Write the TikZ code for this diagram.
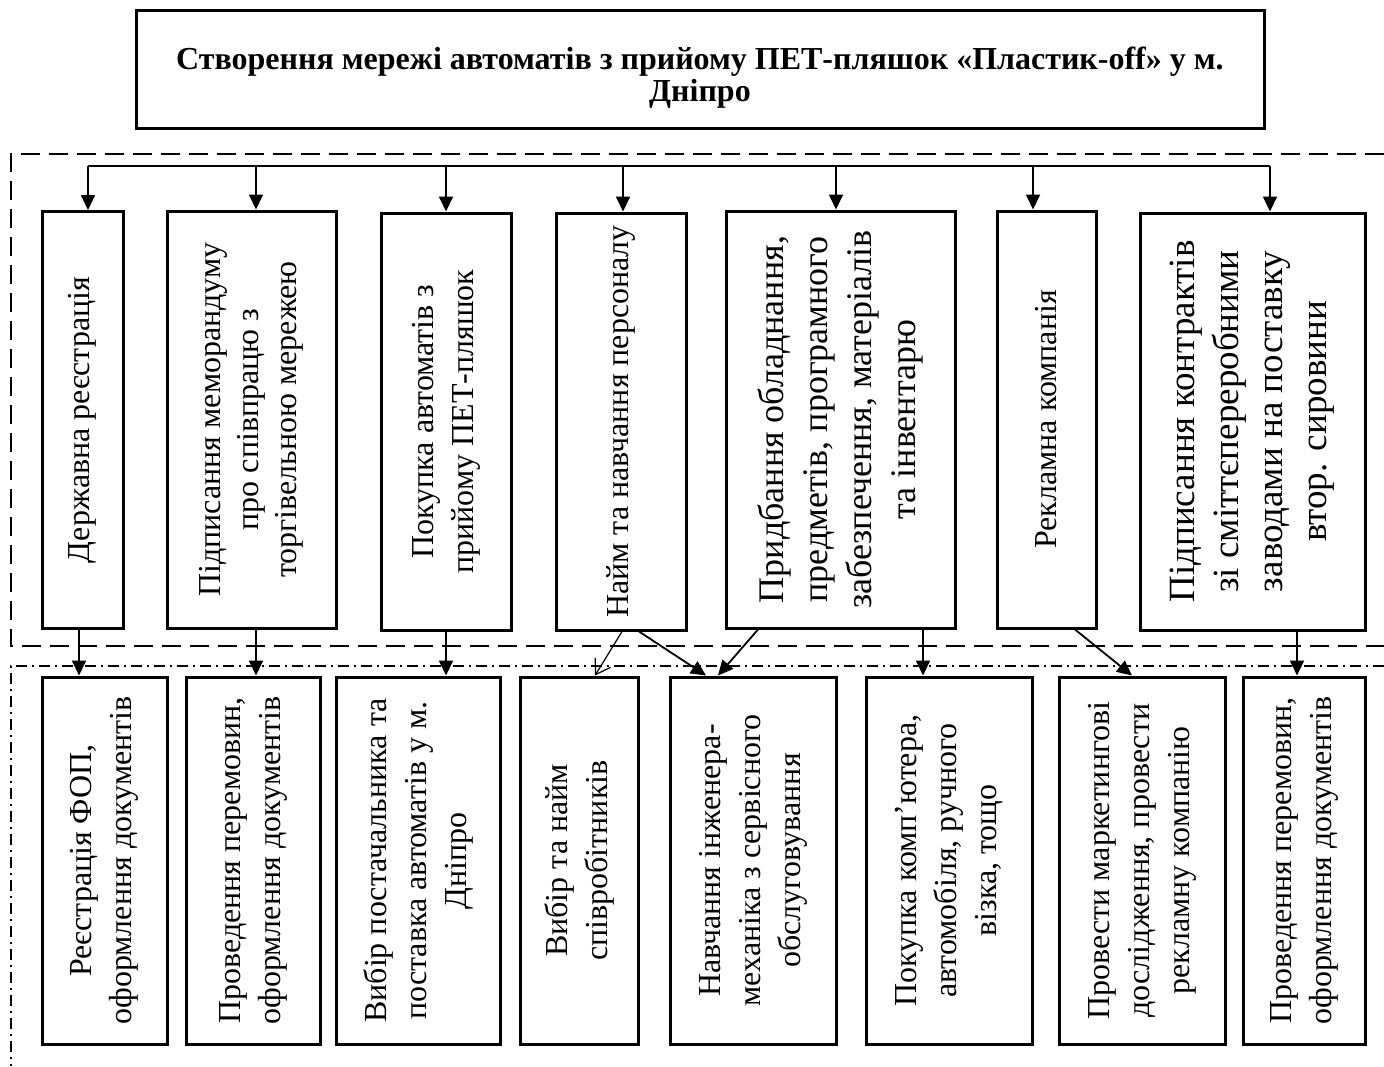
\documentclass[tikz,border=0pt]{standalone}
\usepackage{fontspec}
\setmainfont{Liberation Serif}
\usetikzlibrary{arrows.meta}
\newcommand\fsz[2]{\fontsize{#1}{#2}\selectfont}
\begin{document}
\begin{tikzpicture}[x=0.5pt,y=-0.5pt,
  boxn/.style={draw, line width=1.5pt, inner sep=0pt, rectangle},
  lbl/.style={rotate=90, align=center, inner sep=0pt},
  arr/.style={line width=0.9pt, -{Triangle[length=7.5pt,width=7pt]}},
  openarr/.style={line width=0.6pt, -{Straight Barb[length=7pt,width=9pt,line width=0.6pt]}},
  dashframe/.style={line width=1.4pt, dash pattern=on 9.5pt off 4.5pt},
  dotframe/.style={line width=1.4pt, dash pattern=on 5.5pt off 2.5pt on 1pt off 2.5pt},
  topbox/.style={boxn, minimum height=208.5pt},
  botbox/.style={boxn, minimum height=183.5pt},
  botlbl/.style={lbl, font=\fsz{16}{20}}
]
\useasboundingbox (0,0) rectangle (1384,1066);

% frames
\draw[dashframe] (1384,154) -- (11,154) -- (11,646) -- (1384,646);
\draw[dotframe] (1384,666) -- (11,666) -- (11,1066);

% title
\node[boxn, minimum width=564pt, minimum height=59pt] (title) at (700,69) {};
\node[align=center, inner sep=0pt, font=\fsz{16}{16}\bfseries] (titlel) at (700,78)
  {Створення мережі автоматів з прийому ПЕТ-пляшок «Пластик-off» у м.\\ Дніпро};

% top row boxes
\node[topbox, minimum width=40.5pt]  (t1) at (82.5,420) {};
\node[topbox, minimum width=84.5pt]  (t2) at (251.5,419.5) {};
\node[topbox, minimum width=65pt]    (t3) at (446,421.5) {};
\node[topbox, minimum width=65pt]    (t4) at (621,421.5) {};
\node[topbox, minimum width=114.5pt] (t5) at (840.5,419.5) {};
\node[topbox, minimum width=49.5pt]  (t6) at (1046.5,419.5) {};
\node[topbox, minimum width=112.5pt] (t7) at (1252.5,421.5) {};

\node[lbl, font=\fsz{16}{20}] (t1l) at (t1) {Державна реєстрація};
\node[lbl, font=\fsz{16}{19}] (t2l) at (t2) {Підписання меморандуму\\ про співпрацю з\\ торгівельною мережею};
\node[lbl, font=\fsz{16}{20}] (t3l) at (t3) {Покупка автоматів з\\ прийому ПЕТ-пляшок};
\node[lbl, font=\fsz{16}{20}] (t4l) at (t4) {Найм та навчання персоналу};
\node[lbl, font=\fsz{18}{22}] (t5l) at (t5) {Придбання обладнання,\\ предметів, програмного\\ забезпечення, матеріалів\\ та інвентарю};
\node[lbl, font=\fsz{16}{20}] (t6l) at (t6) {Рекламна компанія};
\node[lbl, font=\fsz{18.5}{22}] (t7l) at (t7) {Підписання контрактів\\ зі сміттєпереробними\\ заводами на поставку\\ втор. сировини};

% bottom row boxes
\node[botbox, minimum width=62.5pt] (b1) at (104.5,860.5) {};
\node[botbox, minimum width=67pt]   (b2) at (253,860.5) {};
\node[botbox, minimum width=82pt]   (b3) at (418,860.5) {};
\node[botbox, minimum width=59pt]   (b4) at (579,860.5) {};
\node[botbox, minimum width=83pt]   (b5) at (753,860.5) {};
\node[botbox, minimum width=83pt]   (b6) at (949,860.5) {};
\node[botbox, minimum width=83pt]   (b7) at (1142,860.5) {};
\node[botbox, minimum width=61pt]   (b8) at (1304,860.5) {};

\node[botlbl] (b1l) at (b1) {Реєстрація ФОП,\\ оформлення документів};
\node[botlbl] (b2l) at (b2) {Проведення перемовин,\\ оформлення документів};
\node[botlbl] (b3l) at (b3) {Вибір постачальника та\\ поставка автоматів у м.\\ Дніпро};
\node[botlbl] (b4l) at (b4) {Вибір та найм\\ співробітників};
\node[botlbl] (b5l) at (b5) {Навчання інженера-\\ механіка з сервісного\\ обслуговування};
\node[botlbl] (b6l) at (b6) {Покупка комп’ютера,\\ автомобіля, ручного\\ візка, тощо};
\node[botlbl] (b7l) at (b7) {Провести маркетингові\\ дослідження, провести\\ рекламну компанію};
\node[botlbl] (b8l) at (b8) {Проведення перемовин,\\ оформлення документів};

% bus
\coordinate (bus1) at (88,166);
\coordinate (bus2) at (256,166);
\coordinate (bus3) at (446,166);
\coordinate (bus4) at (623,166);
\coordinate (bus5) at (836,166);
\coordinate (bus6) at (1033,166);
\coordinate (bus7) at (1270,166);
\draw[line width=0.9pt] (bus1) -- (bus7);
\foreach \i in {1,...,7}{
  \draw[arr] (bus\i) -- (bus\i |- t\i.north);
}

% connectors top -> bottom
\draw[arr] ([xshift=-1.75pt]t1.south) -- ([xshift=-12.75pt]b1.north);
\draw[arr] ([xshift=2.25pt]t2.south) -- ([xshift=1.5pt]b2.north);
\draw[arr] (t3.south) -- ([xshift=14pt]b3.north);
\draw[openarr] ([xshift=0.5pt]t4.south) -- ([xshift=8pt]b4.north);
\draw[arr] ([xshift=9pt]t4.south) -- ([xshift=-23.5pt]b5.north);
\draw[arr] ([xshift=-41.25pt]t5.south) -- ([xshift=-17.5pt]b5.north);
\draw[arr] ([xshift=41.25pt]t5.south) -- ([xshift=-13pt]b6.north);
\draw[arr] ([xshift=14.25pt]t6.south) -- ([xshift=-5pt]b7.north);
\draw[arr] ([xshift=22.25pt]t7.south) -- ([xshift=-3.5pt]b8.north);
\end{tikzpicture}
\end{document}
